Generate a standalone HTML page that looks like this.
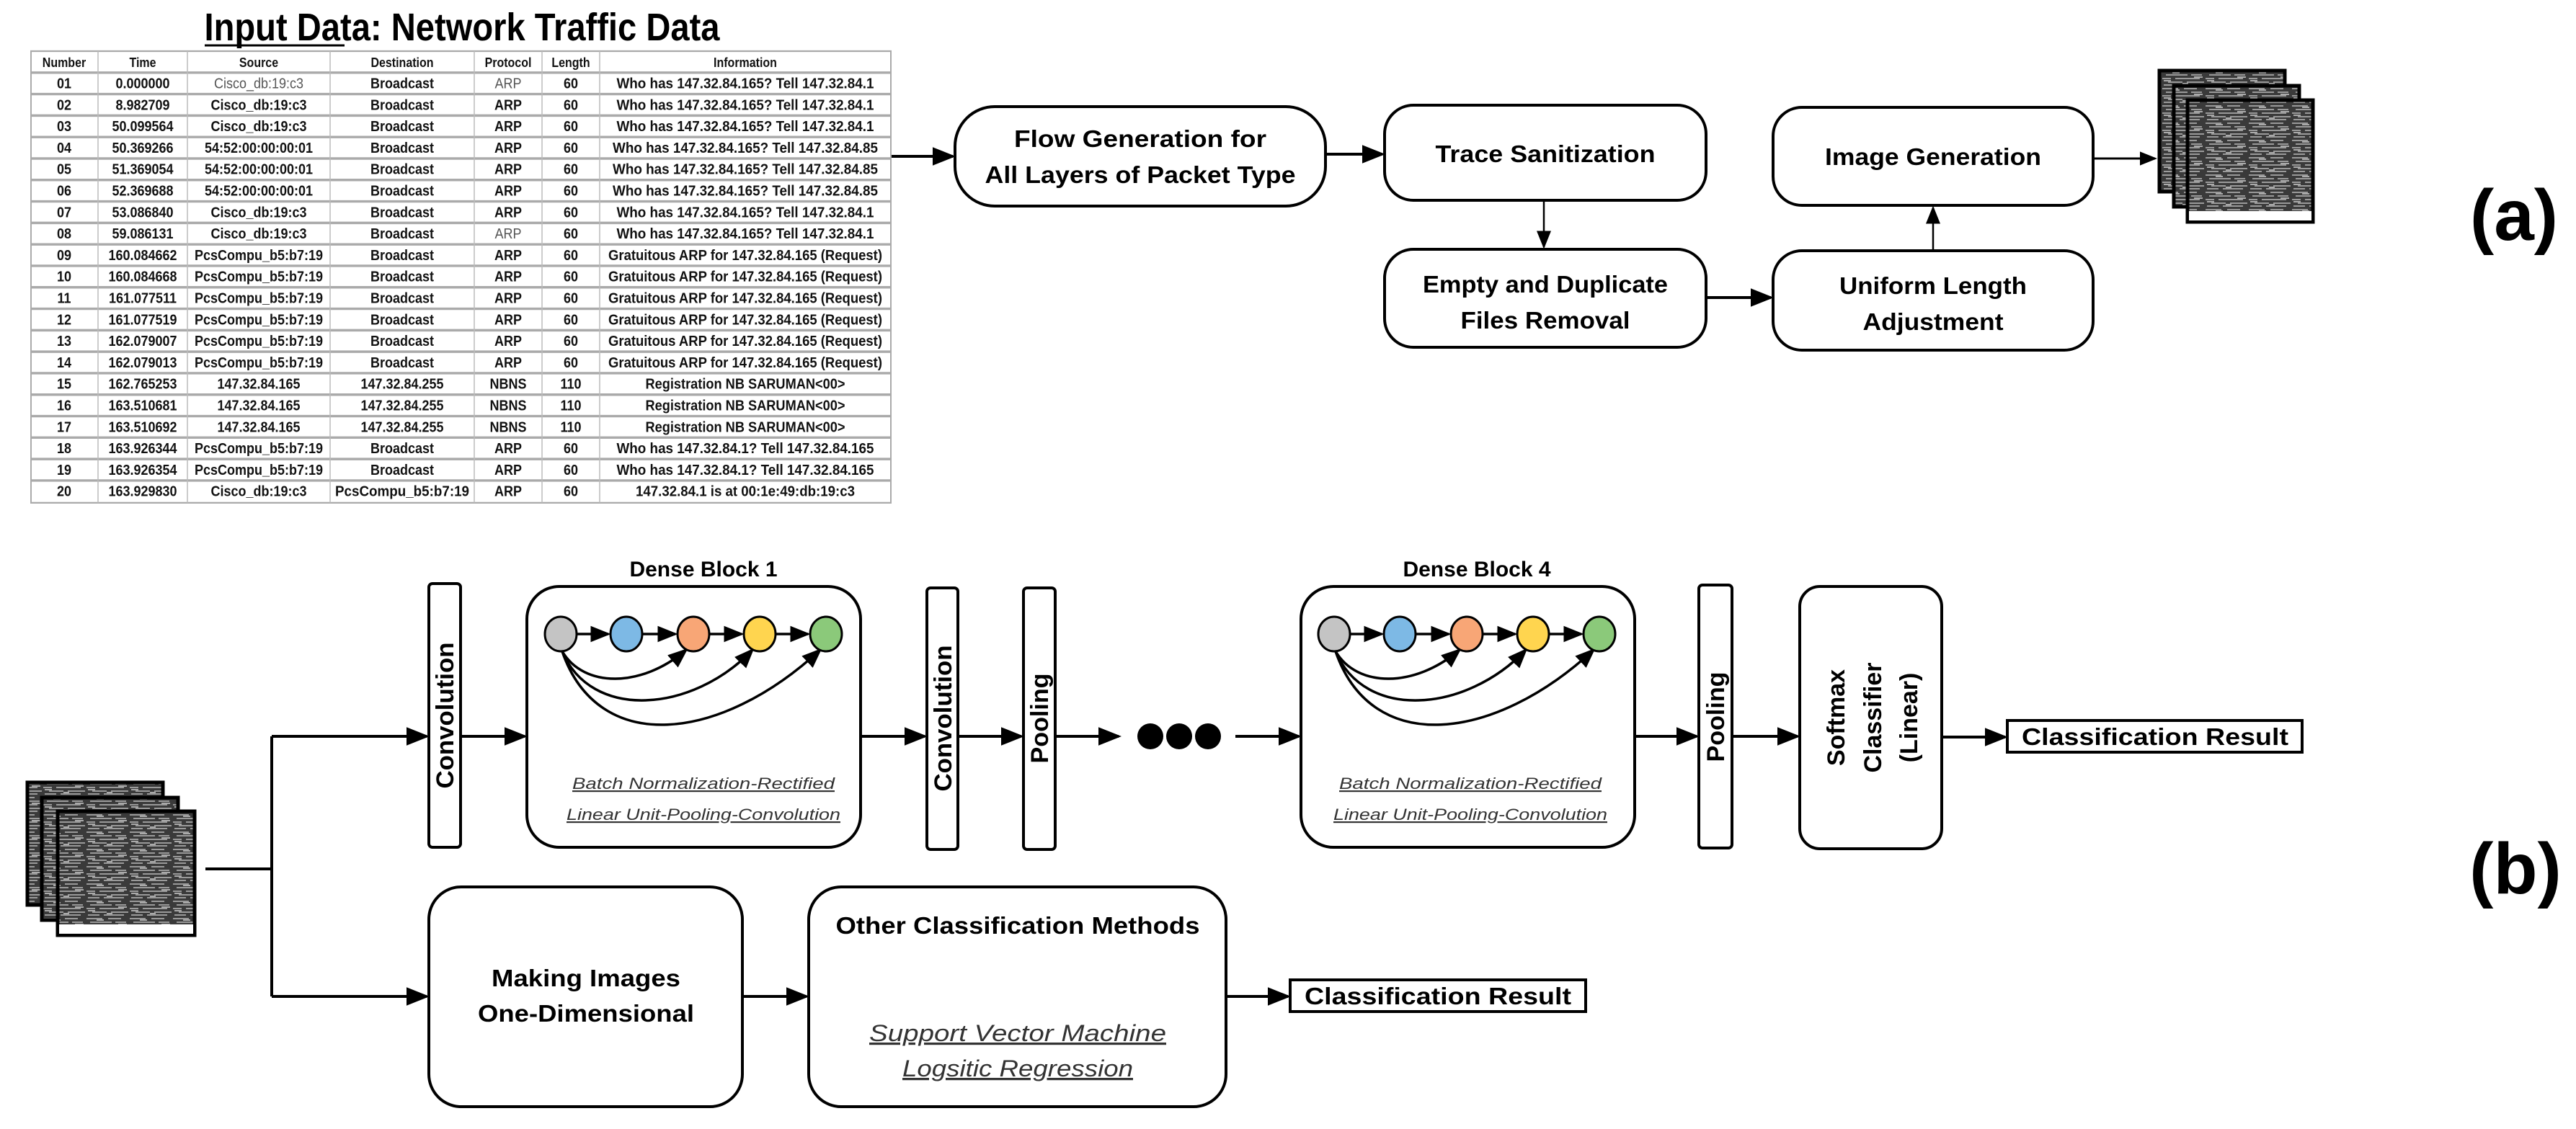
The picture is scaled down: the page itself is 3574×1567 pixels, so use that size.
<!DOCTYPE html>
<html><head><meta charset="utf-8"><style>
html,body{margin:0;padding:0;background:#fff;}
svg{display:block;}
text{font-family:"Liberation Sans",sans-serif;}
</style></head><body>
<svg width="3574" height="1567" viewBox="0 0 3574 1567" xmlns="http://www.w3.org/2000/svg">
<defs>
<marker id="ah" markerWidth="8" markerHeight="8" refX="7" refY="4" orient="auto" markerUnits="strokeWidth">
<path d="M0,0.8 L8,4 L0,7.2 z" fill="#000"/></marker>
<marker id="ah2" markerWidth="10" markerHeight="10" refX="9" refY="5" orient="auto" markerUnits="strokeWidth">
<path d="M0,1 L10,5 L0,9 z" fill="#000"/></marker>
<pattern id="noise" width="60" height="24" patternUnits="userSpaceOnUse">
<rect width="60" height="24" fill="#3a3a3a"/>
<path d="M0,3 h22 M30,3 h18 M5,8 h30 M40,8 h15 M0,13 h12 M18,13 h34 M8,18 h20 M34,18 h24 M2,22 h16 M24,22 h28" stroke="#9a9a9a" stroke-width="2"/>
<path d="M14,5 h10 M44,11 h12 M2,16 h10 M28,20 h8" stroke="#d0d0d0" stroke-width="1.5"/>
</pattern>
</defs>

<!-- Title -->
<text x="641" y="56" font-size="54" font-weight="bold" text-anchor="middle" textLength="715" lengthAdjust="spacingAndGlyphs">Input Data: Network Traffic Data</text>
<line x1="284" y1="63" x2="478" y2="63" stroke="#000" stroke-width="3"/>

<!-- Table -->
<g transform="translate(0,71) scale(1,1.146) translate(0,-71)">
<g font-size="18" font-weight="bold" text-anchor="middle" fill="#111">
<rect x="43" y="71" width="1193" height="547" fill="#fff" stroke="#aaa" stroke-width="2"/>
<g stroke="#aaa" stroke-width="3">
<line x1="43" y1="97" x2="1236" y2="97"/><line x1="43" y1="123" x2="1236" y2="123"/><line x1="43" y1="149" x2="1236" y2="149"/><line x1="43" y1="175" x2="1236" y2="175"/><line x1="43" y1="201" x2="1236" y2="201"/><line x1="43" y1="227" x2="1236" y2="227"/><line x1="43" y1="253" x2="1236" y2="253"/><line x1="43" y1="279" x2="1236" y2="279"/><line x1="43" y1="305" x2="1236" y2="305"/><line x1="43" y1="331" x2="1236" y2="331"/><line x1="43" y1="357" x2="1236" y2="357"/><line x1="43" y1="383" x2="1236" y2="383"/><line x1="43" y1="409" x2="1236" y2="409"/><line x1="43" y1="435" x2="1236" y2="435"/><line x1="43" y1="461" x2="1236" y2="461"/><line x1="43" y1="487" x2="1236" y2="487"/><line x1="43" y1="513" x2="1236" y2="513"/><line x1="43" y1="539" x2="1236" y2="539"/><line x1="43" y1="565" x2="1236" y2="565"/><line x1="43" y1="591" x2="1236" y2="591"/>
</g>
<g stroke="#bbb" stroke-width="1.5">
<line x1="136" y1="71" x2="136" y2="618"/><line x1="260" y1="71" x2="260" y2="618"/><line x1="458" y1="71" x2="458" y2="618"/><line x1="658" y1="71" x2="658" y2="618"/><line x1="752" y1="71" x2="752" y2="618"/><line x1="832" y1="71" x2="832" y2="618"/>
</g>
<g font-size="16">
<text x="89" y="90">Number</text><text x="198" y="90">Time</text><text x="359" y="90">Source</text><text x="558" y="90">Destination</text><text x="705" y="90">Protocol</text><text x="792" y="90">Length</text><text x="1034" y="90">Information</text>
</g>
<g>
<text x="89" y="116">01</text><text x="198" y="116">0.000000</text><text x="359" y="116" font-weight="normal" fill="#555">Cisco_db:19:c3</text><text x="558" y="116">Broadcast</text><text x="705" y="116" font-weight="normal" fill="#555">ARP</text><text x="792" y="116">60</text><text x="1034" y="116" textLength="357" lengthAdjust="spacingAndGlyphs">Who has 147.32.84.165? Tell 147.32.84.1</text>
<text x="89" y="142">02</text><text x="198" y="142">8.982709</text><text x="359" y="142">Cisco_db:19:c3</text><text x="558" y="142">Broadcast</text><text x="705" y="142">ARP</text><text x="792" y="142">60</text><text x="1034" y="142" textLength="357" lengthAdjust="spacingAndGlyphs">Who has 147.32.84.165? Tell 147.32.84.1</text>
<text x="89" y="168">03</text><text x="198" y="168">50.099564</text><text x="359" y="168">Cisco_db:19:c3</text><text x="558" y="168">Broadcast</text><text x="705" y="168">ARP</text><text x="792" y="168">60</text><text x="1034" y="168" textLength="357" lengthAdjust="spacingAndGlyphs">Who has 147.32.84.165? Tell 147.32.84.1</text>
<text x="89" y="194">04</text><text x="198" y="194">50.369266</text><text x="359" y="194">54:52:00:00:00:01</text><text x="558" y="194">Broadcast</text><text x="705" y="194">ARP</text><text x="792" y="194">60</text><text x="1034" y="194" textLength="368" lengthAdjust="spacingAndGlyphs">Who has 147.32.84.165? Tell 147.32.84.85</text>
<text x="89" y="220">05</text><text x="198" y="220">51.369054</text><text x="359" y="220">54:52:00:00:00:01</text><text x="558" y="220">Broadcast</text><text x="705" y="220">ARP</text><text x="792" y="220">60</text><text x="1034" y="220" textLength="368" lengthAdjust="spacingAndGlyphs">Who has 147.32.84.165? Tell 147.32.84.85</text>
<text x="89" y="246">06</text><text x="198" y="246">52.369688</text><text x="359" y="246">54:52:00:00:00:01</text><text x="558" y="246">Broadcast</text><text x="705" y="246">ARP</text><text x="792" y="246">60</text><text x="1034" y="246" textLength="368" lengthAdjust="spacingAndGlyphs">Who has 147.32.84.165? Tell 147.32.84.85</text>
<text x="89" y="272">07</text><text x="198" y="272">53.086840</text><text x="359" y="272">Cisco_db:19:c3</text><text x="558" y="272">Broadcast</text><text x="705" y="272">ARP</text><text x="792" y="272">60</text><text x="1034" y="272" textLength="357" lengthAdjust="spacingAndGlyphs">Who has 147.32.84.165? Tell 147.32.84.1</text>
<text x="89" y="298">08</text><text x="198" y="298">59.086131</text><text x="359" y="298">Cisco_db:19:c3</text><text x="558" y="298">Broadcast</text><text x="705" y="298" font-weight="normal" fill="#555">ARP</text><text x="792" y="298">60</text><text x="1034" y="298" textLength="357" lengthAdjust="spacingAndGlyphs">Who has 147.32.84.165? Tell 147.32.84.1</text>
<text x="89" y="324">09</text><text x="198" y="324">160.084662</text><text x="359" y="324">PcsCompu_b5:b7:19</text><text x="558" y="324">Broadcast</text><text x="705" y="324">ARP</text><text x="792" y="324">60</text><text x="1034" y="324" textLength="380" lengthAdjust="spacingAndGlyphs">Gratuitous ARP for 147.32.84.165 (Request)</text>
<text x="89" y="350">10</text><text x="198" y="350">160.084668</text><text x="359" y="350">PcsCompu_b5:b7:19</text><text x="558" y="350">Broadcast</text><text x="705" y="350">ARP</text><text x="792" y="350">60</text><text x="1034" y="350" textLength="380" lengthAdjust="spacingAndGlyphs">Gratuitous ARP for 147.32.84.165 (Request)</text>
<text x="89" y="376">11</text><text x="198" y="376">161.077511</text><text x="359" y="376">PcsCompu_b5:b7:19</text><text x="558" y="376">Broadcast</text><text x="705" y="376">ARP</text><text x="792" y="376">60</text><text x="1034" y="376" textLength="380" lengthAdjust="spacingAndGlyphs">Gratuitous ARP for 147.32.84.165 (Request)</text>
<text x="89" y="402">12</text><text x="198" y="402">161.077519</text><text x="359" y="402">PcsCompu_b5:b7:19</text><text x="558" y="402">Broadcast</text><text x="705" y="402">ARP</text><text x="792" y="402">60</text><text x="1034" y="402" textLength="380" lengthAdjust="spacingAndGlyphs">Gratuitous ARP for 147.32.84.165 (Request)</text>
<text x="89" y="428">13</text><text x="198" y="428">162.079007</text><text x="359" y="428">PcsCompu_b5:b7:19</text><text x="558" y="428">Broadcast</text><text x="705" y="428">ARP</text><text x="792" y="428">60</text><text x="1034" y="428" textLength="380" lengthAdjust="spacingAndGlyphs">Gratuitous ARP for 147.32.84.165 (Request)</text>
<text x="89" y="454">14</text><text x="198" y="454">162.079013</text><text x="359" y="454">PcsCompu_b5:b7:19</text><text x="558" y="454">Broadcast</text><text x="705" y="454">ARP</text><text x="792" y="454">60</text><text x="1034" y="454" textLength="380" lengthAdjust="spacingAndGlyphs">Gratuitous ARP for 147.32.84.165 (Request)</text>
<text x="89" y="480">15</text><text x="198" y="480">162.765253</text><text x="359" y="480">147.32.84.165</text><text x="558" y="480">147.32.84.255</text><text x="705" y="480">NBNS</text><text x="792" y="480">110</text><text x="1034" y="480" textLength="277" lengthAdjust="spacingAndGlyphs">Registration NB SARUMAN&lt;00&gt;</text>
<text x="89" y="506">16</text><text x="198" y="506">163.510681</text><text x="359" y="506">147.32.84.165</text><text x="558" y="506">147.32.84.255</text><text x="705" y="506">NBNS</text><text x="792" y="506">110</text><text x="1034" y="506" textLength="277" lengthAdjust="spacingAndGlyphs">Registration NB SARUMAN&lt;00&gt;</text>
<text x="89" y="532">17</text><text x="198" y="532">163.510692</text><text x="359" y="532">147.32.84.165</text><text x="558" y="532">147.32.84.255</text><text x="705" y="532">NBNS</text><text x="792" y="532">110</text><text x="1034" y="532" textLength="277" lengthAdjust="spacingAndGlyphs">Registration NB SARUMAN&lt;00&gt;</text>
<text x="89" y="558">18</text><text x="198" y="558">163.926344</text><text x="359" y="558">PcsCompu_b5:b7:19</text><text x="558" y="558">Broadcast</text><text x="705" y="558">ARP</text><text x="792" y="558">60</text><text x="1034" y="558" textLength="357" lengthAdjust="spacingAndGlyphs">Who has 147.32.84.1? Tell 147.32.84.165</text>
<text x="89" y="584">19</text><text x="198" y="584">163.926354</text><text x="359" y="584">PcsCompu_b5:b7:19</text><text x="558" y="584">Broadcast</text><text x="705" y="584">ARP</text><text x="792" y="584">60</text><text x="1034" y="584" textLength="357" lengthAdjust="spacingAndGlyphs">Who has 147.32.84.1? Tell 147.32.84.165</text>
<text x="89" y="610">20</text><text x="198" y="610">163.929830</text><text x="359" y="610">Cisco_db:19:c3</text><text x="558" y="610" textLength="186" lengthAdjust="spacingAndGlyphs">PcsCompu_b5:b7:19</text><text x="705" y="610">ARP</text><text x="792" y="610">60</text><text x="1034" y="610" textLength="304" lengthAdjust="spacingAndGlyphs">147.32.84.1 is at 00:1e:49:db:19:c3</text>
</g>
</g>
</g>

<!-- (a) flow -->
<g fill="none" stroke="#000" stroke-width="4">
<rect x="1325" y="148" width="514" height="138" rx="55"/>
<rect x="1921" y="146" width="446" height="132" rx="40"/>
<rect x="2460" y="149" width="444" height="136" rx="40"/>
<rect x="1921" y="346" width="446" height="136" rx="40"/>
<rect x="2460" y="348" width="444" height="138" rx="40"/>
</g>
<g stroke="#000" fill="none">
<line x1="1237" y1="217" x2="1322" y2="217" stroke-width="4" marker-end="url(#ah)"/>
<line x1="1839" y1="214" x2="1918" y2="214" stroke-width="4" marker-end="url(#ah)"/>
<line x1="2142" y1="278" x2="2142" y2="343" stroke-width="2.5" marker-end="url(#ah2)"/>
<line x1="2367" y1="413" x2="2457" y2="413" stroke-width="4" marker-end="url(#ah)"/>
<line x1="2682" y1="348" x2="2682" y2="288" stroke-width="2.5" marker-end="url(#ah2)"/>
<line x1="2904" y1="220" x2="2990" y2="220" stroke-width="3" marker-end="url(#ah)"/>
</g>
<g font-size="33" font-weight="bold" text-anchor="middle">
<text x="1582" y="204" textLength="350" lengthAdjust="spacingAndGlyphs">Flow Generation for</text>
<text x="1582" y="254" textLength="431" lengthAdjust="spacingAndGlyphs">All Layers of Packet Type</text>
<text x="2144" y="225" textLength="305" lengthAdjust="spacingAndGlyphs">Trace Sanitization</text>
<text x="2682" y="229" textLength="300" lengthAdjust="spacingAndGlyphs">Image Generation</text>
<text x="2144" y="406" textLength="340" lengthAdjust="spacingAndGlyphs">Empty and Duplicate</text>
<text x="2144" y="456" textLength="235" lengthAdjust="spacingAndGlyphs">Files Removal</text>
<text x="2682" y="408" textLength="260" lengthAdjust="spacingAndGlyphs">Uniform Length</text>
<text x="2682" y="458" textLength="195" lengthAdjust="spacingAndGlyphs">Adjustment</text>
</g>
<g stroke="#000" stroke-width="5">
<rect x="2996" y="98" width="174" height="168" fill="url(#noise)"/>
<rect x="3016" y="119" width="174" height="168" fill="url(#noise)"/>
<rect x="3035" y="139" width="174" height="169" fill="url(#noise)"/>
<rect x="3037" y="293" width="170" height="13" fill="#fff" stroke="none"/>
</g>
<text x="3488" y="333" font-size="100" font-weight="bold" text-anchor="middle">(a)</text>

<!-- (b) -->
<g stroke="#000" stroke-width="5">
<rect x="38" y="1086" width="188" height="170" fill="url(#noise)"/>
<rect x="58" y="1107" width="189" height="170" fill="url(#noise)"/>
<rect x="80" y="1126" width="190" height="172" fill="url(#noise)"/>
<rect x="82" y="1283" width="186" height="13" fill="#fff" stroke="none"/>
</g>
<g stroke="#000" stroke-width="4" fill="none">
<polyline points="285,1206 377,1206"/>
<polyline points="377,1022 377,1383"/>
<line x1="377" y1="1022" x2="592" y2="1022" marker-end="url(#ah)"/>
<line x1="639" y1="1022" x2="728" y2="1022" marker-end="url(#ah)"/>
<line x1="1194" y1="1022" x2="1283" y2="1022" marker-end="url(#ah)"/>
<line x1="1329" y1="1022" x2="1417" y2="1022" marker-end="url(#ah)"/>
<line x1="1464" y1="1022" x2="1552" y2="1022" marker-end="url(#ah)"/>
<line x1="1714" y1="1022" x2="1802" y2="1022" marker-end="url(#ah)"/>
<line x1="2268" y1="1022" x2="2354" y2="1022" marker-end="url(#ah)"/>
<line x1="2403" y1="1022" x2="2494" y2="1022" marker-end="url(#ah)"/>
<line x1="2694" y1="1023" x2="2782" y2="1023" marker-end="url(#ah)"/>
<line x1="377" y1="1383" x2="592" y2="1383" marker-end="url(#ah)"/>
<line x1="1030" y1="1383" x2="1119" y2="1383" marker-end="url(#ah)"/>
<line x1="1701" y1="1383" x2="1787" y2="1383" marker-end="url(#ah)"/>
<rect x="595" y="810" width="44" height="366" rx="5"/>
<rect x="731" y="814" width="463" height="362" rx="45"/>
<rect x="1286" y="816" width="43" height="363" rx="5"/>
<rect x="1420" y="816" width="44" height="363" rx="5"/>
<rect x="1805" y="814" width="463" height="362" rx="45"/>
<rect x="2357" y="812" width="46" height="365" rx="5"/>
<rect x="2497" y="814" width="197" height="364" rx="28"/>
<rect x="595" y="1231" width="435" height="305" rx="45"/>
<rect x="1122" y="1231" width="579" height="305" rx="45"/>
</g>
<rect x="2785" y="1000" width="409" height="44" fill="#fff" stroke="#000" stroke-width="4"/>
<rect x="1790" y="1360" width="410" height="44" fill="#fff" stroke="#000" stroke-width="4"/>
<circle cx="1596" cy="1022" r="18"/><circle cx="1636" cy="1022" r="18"/><circle cx="1676" cy="1022" r="18"/>

<g id="db1">
<g stroke="#000" stroke-width="3.5" fill="none">
<line x1="801" y1="880" x2="844" y2="880" marker-end="url(#ah)"/>
<line x1="892" y1="880" x2="937" y2="880" marker-end="url(#ah)"/>
<line x1="985" y1="880" x2="1029" y2="880" marker-end="url(#ah)"/>
<line x1="1077" y1="880" x2="1121" y2="880" marker-end="url(#ah)"/>
<path d="M780,904 C810,955 890,955 952,902" marker-end="url(#ah)"/>
<path d="M780,904 C820,1000 960,990 1044,902" marker-end="url(#ah)"/>
<path d="M780,904 C830,1050 1000,1030 1138,902" marker-end="url(#ah)"/>
</g>
<g stroke="#000" stroke-width="3">
<ellipse cx="778" cy="880" rx="22" ry="24" fill="#c4c4c4"/>
<ellipse cx="869" cy="880" rx="22" ry="24" fill="#7db9e5"/>
<ellipse cx="962" cy="880" rx="22" ry="24" fill="#f8a676"/>
<ellipse cx="1054" cy="880" rx="22" ry="24" fill="#ffd54f"/>
<ellipse cx="1146" cy="880" rx="22" ry="24" fill="#8bc97a"/>
</g>
</g>
<use href="#db1" transform="translate(1073,0)"/>

<g text-anchor="middle">
<text x="976" y="800" font-size="30" font-weight="bold">Dense Block 1</text>
<text x="2049" y="800" font-size="30" font-weight="bold">Dense Block 4</text>
<g font-size="22" font-style="italic" fill="#333" text-decoration="underline">
<text x="976" y="1095" textLength="364" lengthAdjust="spacingAndGlyphs">Batch Normalization-Rectified</text>
<text x="976" y="1138" textLength="380" lengthAdjust="spacingAndGlyphs">Linear Unit-Pooling-Convolution</text>
<text x="2040" y="1095" textLength="364" lengthAdjust="spacingAndGlyphs">Batch Normalization-Rectified</text>
<text x="2040" y="1138" textLength="380" lengthAdjust="spacingAndGlyphs">Linear Unit-Pooling-Convolution</text>
</g>
<g font-size="34" font-weight="bold">
<text transform="translate(629,993) rotate(-90)" textLength="203" lengthAdjust="spacingAndGlyphs">Convolution</text>
<text transform="translate(1320,997) rotate(-90)" textLength="203" lengthAdjust="spacingAndGlyphs">Convolution</text>
<text transform="translate(1454,997) rotate(-90)" textLength="125" lengthAdjust="spacingAndGlyphs">Pooling</text>
<text transform="translate(2392,995) rotate(-90)" textLength="125" lengthAdjust="spacingAndGlyphs">Pooling</text>
<text transform="translate(2559,996) rotate(-90)">Softmax</text>
<text transform="translate(2610,996) rotate(-90)">Classifier</text>
<text transform="translate(2660,996) rotate(-90)">(Linear)</text>
</g>
<g font-size="33" font-weight="bold">
<text x="2990" y="1034" textLength="370" lengthAdjust="spacingAndGlyphs">Classification Result</text>
<text x="1995" y="1394" textLength="370" lengthAdjust="spacingAndGlyphs">Classification Result</text>
<text x="813" y="1369" textLength="262" lengthAdjust="spacingAndGlyphs">Making Images</text>
<text x="813" y="1418" textLength="300" lengthAdjust="spacingAndGlyphs">One-Dimensional</text>
<text x="1412" y="1296" textLength="505" lengthAdjust="spacingAndGlyphs">Other Classification Methods</text>
</g>
<g font-size="32" font-style="italic" fill="#333" text-decoration="underline">
<text x="1412" y="1445" textLength="412" lengthAdjust="spacingAndGlyphs">Support Vector Machine</text>
<text x="1412" y="1494" textLength="320" lengthAdjust="spacingAndGlyphs">Logsitic Regression</text>
</g>
<text x="3490" y="1240" font-size="100" font-weight="bold">(b)</text>
</g>
</svg>
</body></html>
